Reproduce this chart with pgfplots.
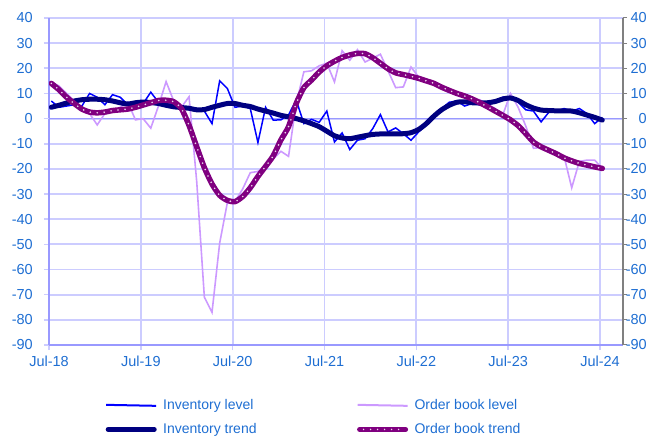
\documentclass[border=0pt]{standalone}
\usepackage{fontspec}
\setmainfont{Liberation Sans}
\usepackage{pgfplots}
\pgfplotsset{compat=1.18}
\usepackage{pgfplotstable}
\definecolor{gridc}{RGB}{204,204,255}
\definecolor{axc}{RGB}{153,153,255}
\definecolor{labc}{RGB}{30,110,210}
\definecolor{invl}{RGB}{0,0,255}
\definecolor{invt}{RGB}{0,0,128}
\definecolor{obl}{RGB}{204,153,255}
\definecolor{obt}{RGB}{128,0,128}
\definecolor{dotc}{RGB}{235,215,235}

\pgfplotstableread{
k IL IT OL OT
0 7 4.5 14.5 14
1 4.5 5.3 13 11.5
2 5 6.2 10 8.5
3 5.5 7 7 6
4 5 7.5 4.5 3.8
5 10 7.7 2 2.6
6 8.5 7.7 -2.5 2.3
7 5.5 7.5 2 2.6
8 9.5 7 3 3.2
9 8.5 6.3 4.5 3.5
10 5.5 5.8 6.5 3.8
11 5.5 6.3 -0.5 4.5
12 6 6.6 0 5.4
13 10.5 6.4 -3.8 6.3
14 6.5 6 5 7.2
15 6.5 5.3 14.7 7.3
16 6 4.7 7 6.7
17 5 4.4 4.5 4
18 4 4.1 8.7 -2.7
19 3.5 3.5 -25 -11.2
20 3 3.6 -71 -19.5
21 -2 4.5 -77 -26
22 15 5.3 -49.5 -30.5
23 12 6 -33.5 -32.5
24 4.5 6 -33 -33
25 5 5.3 -28 -31
26 4 4.8 -21.5 -27.5
27 -9.5 3.8 -21 -23
28 4.5 3 -19 -19
29 -0.6 2.2 -16 -14.8
30 -0.5 1.3 -13 -8.5
31 1.5 0.7 -15 -3.2
32 7.4 0 6 6
33 -2 -0.9 18.6 12.3
34 -0.3 -2 19 15.3
35 -1.5 -3.2 21 18.5
36 3 -5 22 21
37 -9.3 -6.8 14.6 22.8
38 -5.7 -7.7 27 24.3
39 -12.3 -8 23.2 25.3
40 -8.6 -7.4 27.4 25.9
41 -8 -6.8 22.5 25.8
42 -4 -6.3 24 24.2
43 1.6 -6.1 25.6 22
44 -5.3 -6.1 19 19.8
45 -3.7 -6.1 12.3 18.2
46 -6 -6 12.6 17.5
47 -8.6 -5.6 20.5 16.8
48 -5.3 -4.3 16.6 16
49 -2.5 -2 15.5 15
50 1 1 14 14
51 4 3.5 12 12.5
52 6.5 5.3 11 11.2
53 7 6.5 9.5 10
54 5 6.7 8.5 9
55 6 6.3 7.5 7.8
56 5.5 6.2 7.5 6.3
57 6 6.3 5.5 4.7
58 7 6.8 4 3
59 8.5 7.8 1.5 1.3
60 8.5 8.2 10 -0.5
61 6.5 7.2 4.5 -2.8
62 3.5 5.5 -3 -6
63 3 4.2 -11.8 -9.3
64 -1.3 3.4 -11.5 -11.2
65 2.5 3.2 -12 -12.6
66 3 3.1 -13.5 -14
67 4 3.1 -15 -15.6
68 3 3 -27.5 -16.8
69 4 2.3 -17 -17.8
70 2 1.4 -16.5 -18.5
71 -2 0.5 -16.5 -19.2
72 0.5 -0.6 -19.8 -19.8
}\data

\begin{document}
\begin{tikzpicture}
\useasboundingbox (0,0) rectangle (664bp,438bp);
\begin{axis}[
  scale only axis, width=574bp, height=327bp,
  at={(49bp,93bp)}, anchor=south west,
  xmin=-0.3, xmax=74.7, ymin=-90, ymax=40,
  xtick={-0.3,11.7,23.7,35.7,47.7,59.7,71.7},
  xticklabels={Jul-18,Jul-19,Jul-20,Jul-21,Jul-22,Jul-23,Jul-24},
  ytick={-90,-80,...,40},
  extra y ticks={0}, extra y tick labels={},
  extra y tick style={major grid style={axc, line width=1.6bp}},
  axis x line*=bottom, axis y line*=left,
  grid=major, major grid style={gridc, line width=1.8bp},
  axis line style={axc, line width=1.8bp},
  tick style={gridc, line width=1.6bp},
  tick align=outside, major tick length=5bp,
  ticklabel style={font=\fontsize{14.5bp}{16bp}\selectfont, text=labc},
  /pgf/number format/assume math mode=true,
  yticklabel style={anchor=east, inner sep=0pt, xshift=-11bp},
  xticklabel style={anchor=north, inner sep=0pt, yshift=-6bp},
  legend columns=2,
  legend cell align=left,
  legend style={at={(0.0976,-0.160)}, anchor=north west, draw=none, fill=none,
    inner sep=0pt, font=\fontsize{14bp}{15bp}\selectfont, text=labc,
    row sep=8.5bp,
    /tikz/every odd column/.append style={column sep=4bp},
    /tikz/every even column/.append style={column sep=98bp}},
]
\addplot[invl, line width=1.5bp, forget plot] table[x=k,y=IL]{\data};
\addplot[obl, line width=1.6bp, forget plot] table[x=k,y=OL]{\data};
\addplot[invt, line width=5bp, line join=round, line cap=round, smooth, tension=0.4, forget plot] table[x=k,y=IT]{\data};
\addplot[obt, line width=5.5bp, line join=round, line cap=round, smooth, tension=0.4, forget plot] table[x=k,y=OT]{\data};
\addplot[dotc, line width=1.8bp, line cap=round, smooth, tension=0.4, dash pattern=on 0pt off 7bp, forget plot] table[x=k,y=OT]{\data};

\addlegendimage{legend image code/.code={\draw[draw=invl,line width=2bp] (0bp,0.5bp)--(50bp,-0.5bp);}}
\addlegendentry{Inventory level}
\addlegendimage{legend image code/.code={\draw[draw=obl,line width=2bp] (0bp,0.5bp)--(50bp,-0.5bp);}}
\addlegendentry{Order book level}
\addlegendimage{legend image code/.code={\draw[invt,line width=5bp,line cap=round] (2bp,0bp)--(48bp,0bp);}}
\addlegendentry{Inventory trend}
\addlegendimage{legend image code/.code={\draw[obt,line width=5bp,line cap=round] (2bp,0bp)--(48bp,0bp);\draw[dotc,line width=1.6bp,line cap=round,dash pattern=on 0pt off 7bp] (6bp,0bp)--(46bp,0bp);}}
\addlegendentry{Order book trend}
\end{axis}
\begin{axis}[
  scale only axis, width=574bp, height=327bp,
  at={(49bp,93bp)}, anchor=south west,
  xmin=-0.3, xmax=74.7, ymin=-90, ymax=40,
  hide x axis, axis y line*=right,
  ytick={-90,-80,...,40},
  axis line style={gray, line width=1.8bp},
  tick style={gray, line width=1bp},
  tick align=outside, major tick length=4bp,
  ticklabel style={font=\fontsize{14.5bp}{16bp}\selectfont, text=labc},
  /pgf/number format/assume math mode=true,
  yticklabel style={anchor=east, inner sep=0pt, xshift=20bp},
]
\end{axis}
\end{tikzpicture}
\end{document}
